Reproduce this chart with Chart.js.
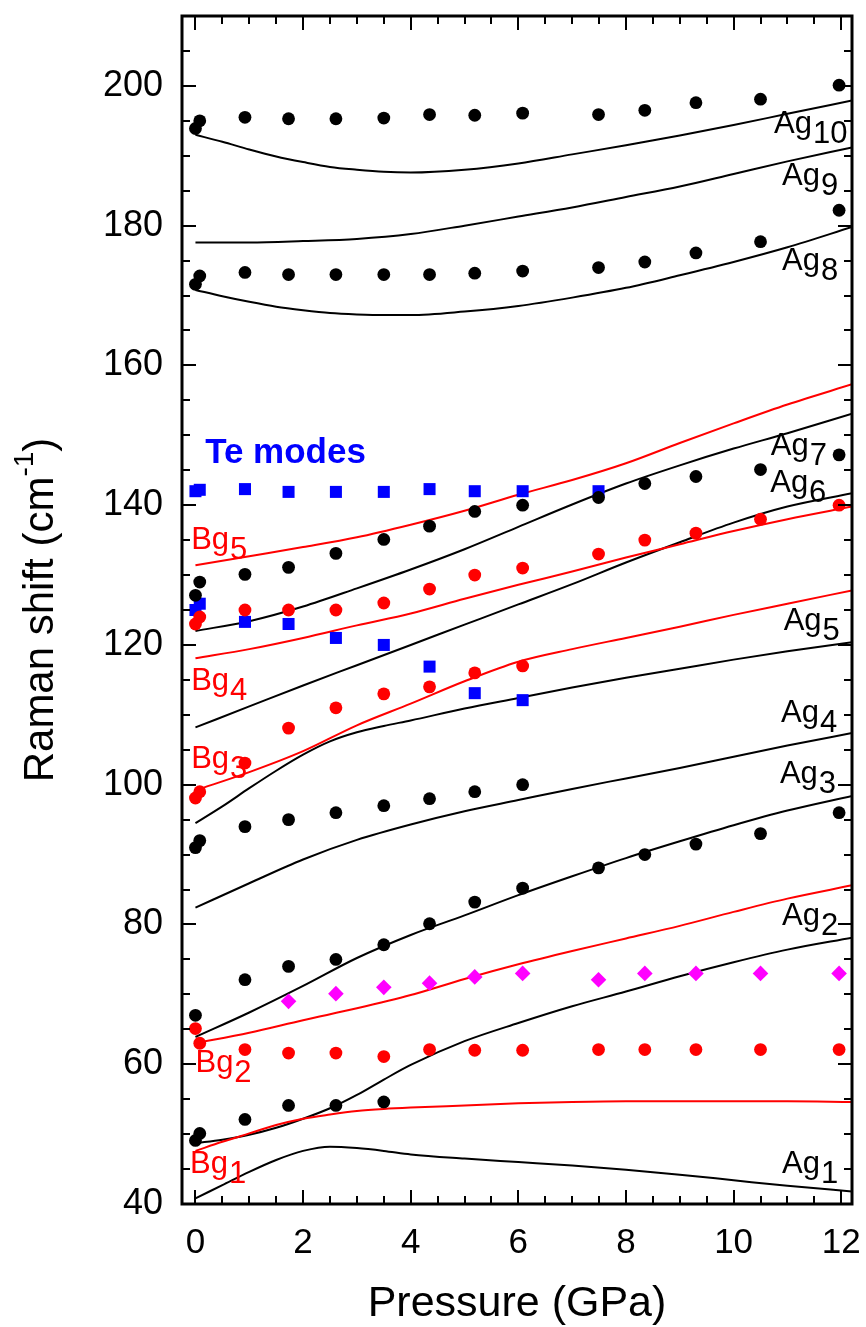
<!DOCTYPE html>
<html>
<head>
<meta charset="utf-8">
<script src="https://cdn.jsdelivr.net/npm/chart.js@4.4.0/dist/chart.umd.min.js"></script>
<style>
  html, body { margin: 0; padding: 0; background: #fff; }
  canvas { display: block; }
</style>
</head>
<body>
<canvas id="raman" width="866" height="1327"></canvas>
<script>
// axis tick labels
var xTicks = [0, 2, 4, 6, 8, 10, 12];
var yTicks = [40, 60, 80, 100, 120, 140, 160, 180, 200];

// measured pressures (GPa)
var pAll = [0, 0.08, 0.92, 1.73, 2.61, 3.5, 4.35, 5.19, 6.08, 7.49, 8.35, 9.3, 10.5, 11.96];
var pTo6 = [0, 0.08, 0.92, 1.73, 2.61, 3.5, 4.35, 5.19, 6.08];
var pTo7 = [0, 0.08, 0.92, 1.73, 2.61, 3.5, 4.35, 5.19, 6.08, 7.49];
var pTo3 = [0, 0.08, 0.92, 1.73, 2.61, 3.5];
var pNo008 = [0, 0.92, 1.73, 2.61, 3.5, 4.35, 5.19, 6.08, 7.49, 8.35, 9.3, 10.5, 11.96];
var pFrom17 = [1.73, 2.61, 3.5, 4.35, 5.19, 6.08, 7.49, 8.35, 9.3, 10.5, 11.96];

// measured Raman shifts (cm-1)
var agPts10 = [193.9, 195, 195.5, 195.3, 195.3, 195.4, 195.9, 195.8, 196.1, 195.9, 196.5, 197.6, 198.1, 200.1];
var agPts8 = [171.6, 172.8, 173.3, 173, 173, 173, 173, 173.2, 173.5, 174, 174.8, 176.1, 177.7, 182.2];
var agPts7 = [127.1, 129, 130.1, 131.1, 133.1, 135.1, 137, 139.1, 140, 141.1, 143.1, 144.1, 145.1, 147.2];
var agPts5 = [91, 92, 94, 95, 96, 97, 98, 99, 100];
var agPts3 = [67, 72.1, 74, 75, 77.1, 80.1, 83.2, 85.2, 88.1, 90, 91.5, 93, 96];
var agPts2 = [49.1, 50.1, 52.1, 54.1, 54.1, 54.6];
var bgPts4 = [123, 124, 125, 125, 125, 126, 128, 130, 131, 133, 135, 136, 138, 140];
var bgPts3 = [98.1, 99, 103.1, 108.1, 111, 113, 114, 116, 117];
var bgPts2 = [65.1, 63, 62.1, 61.6, 61.6, 61.1, 62.1, 62, 62, 62.1, 62.1, 62.1, 62.1, 62.1];
var teHigh = [142, 142.2, 142.3, 141.9, 141.9, 141.9, 142.3, 142, 142, 142];
var teLow = [125, 125.9, 123.3, 123, 121, 120, 116.9, 113.1, 112.1];
var extraPts = [69, 70.1, 71, 71.6, 72.5, 73, 72.1, 73, 73, 73, 73];

// calculated curves
var lineP = [0, 1, 2, 3, 4, 5, 6, 7, 8, 9, 10, 11, 12.2];
var lineQ = [0, 0.5, 1, 1.5, 2, 2.5, 3, 3.5, 4, 5, 6, 7, 8, 9, 10, 11, 12.2];

var ag1 = [40.8, 42.7, 44.6, 46.3, 47.6, 48.2, 48.0, 47.6, 47.1, 46.5, 46, 45.5, 44.9, 44.2, 43.4, 42.6, 41.8];  // lineQ
var ag2 = [48.7, 49.2, 49.9, 50.9, 52.2, 53.7, 55.6, 57.8, 59.9, 63.3, 65.9, 68.3, 70.4, 72.6, 74.6, 76.4, 78.1];  // lineQ
var ag3 = [63.9, 67.4, 71.2, 75.2, 78.5, 81.3, 84.2, 86.9, 89.5, 91.9, 94.2, 96.3, 98.4];
var ag4 = [82.4, 85.9, 89.3, 92.1, 94.3, 96.2, 97.8, 99.4, 100.9, 102.4, 104, 105.6, 107.4];
var ag5 = [94.5, 96.9, 99.5, 102, 104.3, 106.2, 107.5, 108.4, 109.2, 110.9, 112.4, 113.9, 115.3, 116.6, 117.9, 119.1, 120.4];  // lineQ
var ag6 = [108.2, 111.2, 114.2, 117.1, 120, 122.9, 125.8, 128.7, 131.8, 134.7, 137.5, 139.8, 141.7];
var ag7 = [122, 123.4, 125.5, 128.1, 130.8, 133.7, 136.9, 140.1, 143.1, 145.7, 148.1, 150.3, 153.1];
var ag8 = [170.8, 169.9, 169.1, 168.4, 167.9, 167.5, 167.3, 167.2, 167.2, 167.7, 168.5, 169.7, 171.1, 172.9, 174.8, 176.9, 179.8];  // lineQ
var ag9 = [177.6, 177.6, 177.8, 178.1, 178.8, 180, 181.3, 182.6, 184.1, 185.6, 187.4, 189.2, 191.2];
var ag10 = [193, 192, 190.9, 189.9, 189.1, 188.4, 188, 187.7, 187.6, 188, 188.9, 190.2, 191.5, 192.9, 194.4, 196, 197.9];  // lineQ

var bg1 = [47.6, 48.9, 50.1, 51.3, 52.2, 52.8, 53.3, 53.6, 53.8, 54.1, 54.4, 54.6, 54.7, 54.7, 54.7, 54.7, 54.6];  // lineQ
var bg2 = [63, 64.5, 66.3, 68, 69.9, 72.2, 74.3, 76.2, 78, 79.8, 81.8, 83.7, 85.6];
var bg3 = [99.2, 101.8, 104.8, 108.5, 111.6, 114.8, 117.6, 119.4, 121, 122.6, 124.3, 125.9, 127.8];
var bg4 = [118.1, 119.4, 121, 122.8, 124.5, 126.6, 128.6, 130.5, 132.5, 134.4, 136.3, 138, 139.8];
var bg5 = [131.4, 132.7, 134, 135.4, 137.2, 139.2, 141.5, 143.6, 146, 148.9, 151.7, 154.4, 157.3];

// mode labels: text, subscript, pressure / shift of the label's left baseline point
var modeLabels = [
    ['Ag', '10', 10.75, 193.2, '#000'],
    ['Ag', '9', 10.9, 185.8, '#000'],
    ['Ag', '8', 10.9, 173.6, '#000'],
    ['Ag', '7', 10.69, 147.2, '#000'],
    ['Ag', '6', 10.68, 141.9, '#000'],
    ['Ag', '5', 10.93, 122.1, '#000'],
    ['Ag', '4', 10.88, 109.0, '#000'],
    ['Ag', '3', 10.86, 100.2, '#000'],
    ['Ag', '2', 10.9, 79.9, '#000'],
    ['Ag', '1', 10.9, 44.4, '#000'],
    ['Bg', '5', -0.08, 133.8, '#ff0000'],
    ['Bg', '4', -0.08, 113.5, '#ff0000'],
    ['Bg', '3', -0.08, 102.4, '#ff0000'],
    ['Bg', '2', 0.0, 58.9, '#ff0000'],
    ['Bg', '1', -0.1, 44.4, '#ff0000']
];

var FONT = '"Liberation Sans", Arial, sans-serif';

function pts(xs, ys) {
    return ys.map(function (y, i) { return {x: xs[i], y: y}; });
}

function dots(xs, ys, color, style, r) {
    return {
        data: pts(xs, ys),
        showLine: false,
        pointStyle: style,
        pointRadius: r,
        pointBackgroundColor: color,
        pointBorderColor: color,
        pointBorderWidth: 0
    };
}

function curve(xs, ys, color) {
    return {
        data: pts(xs, ys),
        showLine: true,
        borderColor: color,
        borderWidth: 2,
        pointRadius: 0,
        fill: false,
        cubicInterpolationMode: 'monotone'
    };
}

var datasets = [
    // first datasets are drawn on top
    dots(pAll, agPts10, '#000', 'circle', 6.4),
    dots(pAll, agPts8, '#000', 'circle', 6.4),
    dots(pAll, agPts7, '#000', 'circle', 6.4),
    dots(pTo6, agPts5, '#000', 'circle', 6.4),
    dots(pNo008, agPts3, '#000', 'circle', 6.4),
    dots(pTo3, agPts2, '#000', 'circle', 6.4),
    dots(pAll, bgPts4, '#ff0000', 'circle', 6.4),
    dots(pTo6, bgPts3, '#ff0000', 'circle', 6.4),
    dots(pAll, bgPts2, '#ff0000', 'circle', 6.4),
    dots(pFrom17, extraPts, '#ff00ff', 'rectRot', 7.8),
    dots(pTo7, teHigh, '#0000ff', 'rect', 8.5),
    dots(pTo6, teLow, '#0000ff', 'rect', 8.5),
    curve(lineP, bg2, '#ff0000'),
    curve(lineQ, bg1, '#ff0000'),
    curve(lineP, bg3, '#ff0000'),
    curve(lineP, bg4, '#ff0000'),
    curve(lineP, bg5, '#ff0000'),
    curve(lineQ, ag1, '#000'),
    curve(lineQ, ag2, '#000'),
    curve(lineP, ag3, '#000'),
    curve(lineP, ag4, '#000'),
    curve(lineQ, ag5, '#000'),
    curve(lineP, ag6, '#000'),
    curve(lineP, ag7, '#000'),
    curve(lineQ, ag8, '#000'),
    curve(lineP, ag9, '#000'),
    curve(lineQ, ag10, '#000')
];

// frame, inward ticks, titles and mode labels
var decorations = {
    id: 'decorations',
    afterDatasetsDraw: function (chart) {
        var ctx = chart.ctx, xs = chart.scales.x, ys = chart.scales.y;
        ctx.save();
        ctx.textBaseline = 'alphabetic';
        ctx.textAlign = 'left';
        modeLabels.forEach(function (l) {
            var px = xs.getPixelForValue(l[2]), py = ys.getPixelForValue(l[3]);
            ctx.fillStyle = l[4];
            ctx.font = '31px ' + FONT;
            ctx.fillText(l[0], px, py);
            var w = ctx.measureText(l[0]).width;
            ctx.fillText(l[1], px + w + 1, py + 10);
        });
        ctx.fillStyle = '#0000ff';
        ctx.font = 'bold 35px ' + FONT;
        ctx.fillText('Te modes', xs.getPixelForValue(0.18), ys.getPixelForValue(146));
        ctx.restore();
    },
    afterDraw: function (chart) {
        var ctx = chart.ctx, a = chart.chartArea, xs = chart.scales.x, ys = chart.scales.y;
        ctx.save();
        ctx.strokeStyle = '#000';
        ctx.lineWidth = 2;
        ctx.beginPath();
        var v, p, len;
        for (v = 0; v <= 12.001; v += 0.5) {
            p = Math.round(xs.getPixelForValue(v));
            len = xTicks.indexOf(v) >= 0 ? 14 : 8;
            ctx.moveTo(p, a.bottom); ctx.lineTo(p, a.bottom - len);
            ctx.moveTo(p, a.top); ctx.lineTo(p, a.top + len);
        }
        for (v = 45; v < 210; v += 5) {
            p = Math.round(ys.getPixelForValue(v));
            len = yTicks.indexOf(v) >= 0 ? 14 : 8;
            ctx.moveTo(a.left, p); ctx.lineTo(a.left + len, p);
            ctx.moveTo(a.right, p); ctx.lineTo(a.right - len, p);
        }
        ctx.stroke();
        ctx.lineWidth = 3;
        ctx.strokeRect(a.left, a.top, a.right - a.left, a.bottom - a.top);

        // axis titles
        ctx.fillStyle = '#000';
        ctx.textBaseline = 'alphabetic';
        ctx.textAlign = 'center';
        ctx.font = '43px ' + FONT;
        ctx.fillText('Pressure (GPa)', (a.left + a.right) / 2, 1316);

        ctx.translate(53, (a.top + a.bottom) / 2);
        ctx.rotate(-Math.PI / 2);
        ctx.textAlign = 'left';
        var t1 = 'Raman shift (cm', t2 = '-1', t3 = ')';
        ctx.font = '42px ' + FONT;
        var w1 = ctx.measureText(t1).width, w3 = ctx.measureText(t3).width;
        ctx.font = '28px ' + FONT;
        var w2 = ctx.measureText(t2).width;
        var x0 = -(w1 + w2 + w3) / 2;
        ctx.font = '42px ' + FONT;
        ctx.fillText(t1, x0, 0);
        ctx.font = '28px ' + FONT;
        ctx.fillText(t2, x0 + w1, -20);
        ctx.font = '42px ' + FONT;
        ctx.fillText(t3, x0 + w1 + w2, 0);
        ctx.restore();
    }
};

var ctx = document.getElementById('raman').getContext('2d');
var ramanChart = new Chart(ctx, {
    type: 'scatter',
    data: {datasets: datasets},
    options: {
        responsive: false,
        animation: false,
        devicePixelRatio: 1,
        layout: {padding: {top: 16, right: 14, left: 0, bottom: 0}},
        plugins: {legend: {display: false}, tooltip: {enabled: false}},
        scales: {
            x: {
                type: 'linear',
                min: -0.25,
                max: 12.2,
                grid: {display: false, drawTicks: false},
                border: {display: false},
                ticks: {font: {family: FONT, size: 35}, color: '#000', padding: 18, maxRotation: 0},
                afterBuildTicks: function (s) { s.ticks = xTicks.map(function (v) { return {value: v}; }); },
                afterFit: function (s) { s.height = 123; s.paddingLeft = 0; s.paddingRight = 0; }
            },
            y: {
                type: 'linear',
                min: 40,
                max: 210,
                grid: {display: false, drawTicks: false},
                border: {display: false},
                ticks: {font: {family: FONT, size: 36}, color: '#000', padding: 19},
                afterBuildTicks: function (s) { s.ticks = yTicks.map(function (v) { return {value: v}; }); },
                afterFit: function (s) { s.width = 182; s.paddingTop = 0; s.paddingBottom = 0; }
            }
        }
    },
    plugins: [decorations]
});
</script>
</body>
</html>
